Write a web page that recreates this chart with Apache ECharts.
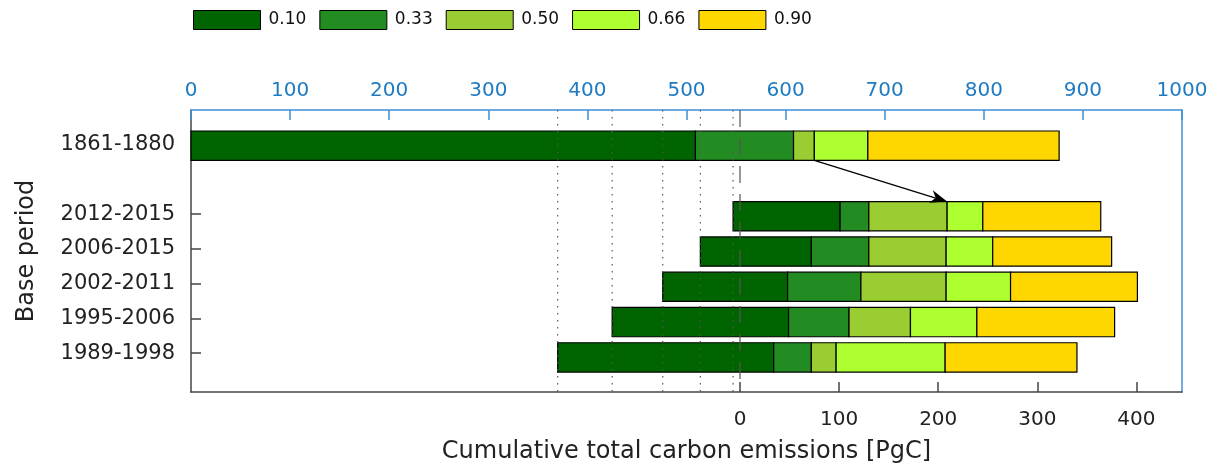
<!DOCTYPE html>
<html>
<head>
<meta charset="utf-8">
<script src="https://cdn.jsdelivr.net/npm/echarts@6/dist/echarts.min.js"></script>
<style>
  html, body { margin: 0; padding: 0; background: #fff; }
  #chart { width: 1220px; height: 463px; }
</style>
</head>
<body>
<div id="chart"></div>
<script>
// Base periods and their row positions on the vertical scale (row 5 is left empty)
const periods = ['1861-1880', '2012-2015', '2006-2015', '2002-2011', '1995-2006', '1989-1998'];
const rowPos = [6, 4, 3, 2, 1, 0];
// 0 = upper scale (emissions since 1861-1880), 1 = lower scale (emissions since the base period)
const rowAxis = [0, 1, 1, 1, 1, 1];

// Quantile levels and the cumulative emissions [PgC] reached at each one, per base period
const quantiles = ['0.10', '0.33', '0.50', '0.66', '0.90'];
const barStart = [0, -7, -40, -78, -129, -184];
const q10 = [509, 101, 72, 48, 49, 34];
const q33 = [608, 130, 130, 122, 110, 72];
const q50 = [629, 209, 208, 208, 172, 97];
const q66 = [683, 245, 255, 273, 239, 207];
const q90 = [876, 364, 375, 401, 378, 340];
const quantileEnds = [q10, q33, q50, q66, q90];

// Offset between the two scales: the lower scale's zero on the upper scale
const SHIFT = 554;
const bottomTicks = [0, 100, 200, 300, 400];

const colors = ['#006400', '#228B22', '#9ACD32', '#ADFF2F', '#FFD700'];
const BLUE_LINE = '#3f90d4';
const BLUE_TEXT = '#1f7bc1';
const DARK = '#444444';
const FONT = 'DejaVu Sans';
const BAR_H = 0.83;
// Row scale used by the bars (right axis) and by the period labels (left axis)
const BAR_MIN = -0.98, BAR_MAX = 7.01;
const LBL_MIN = -1.12, LBL_MAX = 7;

function renderSegment(params, api) {
  const y = api.value(2);
  const p0 = api.coord([api.value(0), y]);
  const p1 = api.coord([api.value(1), y]);
  const h = api.size([0, BAR_H])[1];
  return {
    type: 'rect',
    shape: { x: p0[0], y: p0[1] - h / 2, width: p1[0] - p0[0], height: h },
    style: { fill: api.visual('color'), stroke: '#000', lineWidth: 1.2 }
  };
}

const series = [];
[0, 1].forEach(function (axis) {
  quantiles.forEach(function (q, k) {
    const data = [];
    periods.forEach(function (p, i) {
      if (rowAxis[i] !== axis) return;
      const from = k === 0 ? barStart[i] : quantileEnds[k - 1][i];
      data.push([from, quantileEnds[k][i], rowPos[i]]);
    });
    series.push({
      type: 'custom',
      name: q,
      xAxisIndex: axis,
      yAxisIndex: 1,
      itemStyle: { color: colors[k] },
      encode: { x: [0, 1], y: 2 },
      renderItem: renderSegment,
      data: data,
      z: 2,
      silent: true
    });
  });
});

// Vertical reference lines at each base period's starting point, and at zero
const refLines = [];
periods.forEach(function (p, i) { if (rowAxis[i] === 1) refLines.push([barStart[i], 0]); });
refLines.push([0, 1]);
series.push({
  type: 'custom',
  xAxisIndex: 1,
  yAxisIndex: 1,
  encode: { x: 0 },
  data: refLines,
  z: 5,
  silent: true,
  renderItem: function (params, api) {
    const v = api.value(0);
    const top = api.coord([v, BAR_MAX]);
    const bot = api.coord([v, BAR_MIN]);
    const isZero = api.value(1) === 1;
    return {
      type: 'line',
      shape: { x1: top[0], y1: top[1], x2: bot[0], y2: bot[1] },
      style: isZero
        ? { stroke: '#555', lineWidth: 1.2, lineDash: [17, 11] }
        : { stroke: '#555', lineWidth: 1.2, lineDash: [1.5, 5.5] }
    };
  }
});

// Arrow from the 1861-1880 median to the 2012-2015 median
series.push({
  type: 'custom',
  xAxisIndex: 0,
  yAxisIndex: 1,
  encode: { x: [0, 2] },
  data: [[q50[0], rowPos[0], q50[1] + SHIFT, rowPos[1]]],
  z: 6,
  silent: true,
  renderItem: function (params, api) {
    const h = api.size([0, BAR_H])[1];
    const a = api.coord([api.value(0), api.value(1)]);
    const b = api.coord([api.value(2), api.value(3)]);
    a[1] += h / 2;
    b[1] -= h / 2;
    const ang = Math.atan2(b[1] - a[1], b[0] - a[0]);
    const L = 17, W = 6.5, N = 12;
    const cos = Math.cos(ang), sin = Math.sin(ang);
    const back = [b[0] - L * cos, b[1] - L * sin];
    const notch = [b[0] - N * cos, b[1] - N * sin];
    const left = [back[0] - W * sin, back[1] + W * cos];
    const right = [back[0] + W * sin, back[1] - W * cos];
    return {
      type: 'group',
      children: [
        { type: 'line', shape: { x1: a[0], y1: a[1], x2: notch[0], y2: notch[1] },
          style: { stroke: '#000', lineWidth: 1.3 } },
        { type: 'polygon', shape: { points: [b, left, notch, right] },
          style: { fill: '#000' } }
      ]
    };
  }
});

const labelByPos = {};
periods.forEach(function (p, i) { labelByPos[rowPos[i]] = p; });

const option = {
  animation: false,
  backgroundColor: '#fff',
  textStyle: { fontFamily: FONT },
  legend: {
    left: 193,
    top: 10,
    padding: 0,
    icon: 'rect',
    itemWidth: 67,
    itemHeight: 19,
    itemGap: 13,
    selectedMode: false,
    textStyle: { fontFamily: FONT, fontSize: 17, color: '#111', padding: [0, 0, 0, 3] },
    data: quantiles.map(function (q, k) {
      return { name: q, itemStyle: { color: colors[k], borderColor: '#000', borderWidth: 1 } };
    })
  },
  grid: { left: 191, right: 38, top: 110, bottom: 71, containLabel: false, outerBoundsMode: 'none' },
  xAxis: [
    {
      type: 'value',
      position: 'top',
      min: 0,
      max: 1000,
      interval: 100,
      axisLine: { show: true, onZero: false, lineStyle: { color: BLUE_LINE, width: 1.5 } },
      axisTick: { show: true, inside: true, length: 10, lineStyle: { color: BLUE_LINE, width: 1.5 } },
      axisLabel: {
        color: BLUE_TEXT, fontFamily: FONT, fontSize: 20, margin: 9,
        formatter: function (v) { return String(v); }
      },
      splitLine: { show: false }
    },
    {
      type: 'value',
      position: 'bottom',
      min: -SHIFT,
      max: 1000 - SHIFT,
      axisLine: { show: true, onZero: false, lineStyle: { color: DARK, width: 1.5 } },
      axisTick: { show: true, inside: true, length: 10, customValues: bottomTicks, lineStyle: { color: DARK, width: 1.5 } },
      axisLabel: { color: '#222', fontFamily: FONT, fontSize: 20, margin: 18, customValues: bottomTicks },
      splitLine: { show: false },
      name: 'Cumulative total carbon emissions [PgC]',
      nameLocation: 'middle',
      nameGap: 48,
      nameTextStyle: { color: '#222', fontFamily: FONT, fontSize: 24 }
    }
  ],
  yAxis: [
    {
      type: 'value',
      position: 'left',
      min: LBL_MIN,
      max: LBL_MAX,
      axisLine: { show: true, onZero: false, lineStyle: { color: DARK, width: 1.5 } },
      axisTick: { show: true, inside: true, length: 10, customValues: rowPos, lineStyle: { color: DARK, width: 1.5 } },
      axisLabel: {
        color: '#222', fontFamily: FONT, fontSize: 21, margin: 16,
        customValues: rowPos,
        formatter: function (v) { return labelByPos[v] || ''; }
      },
      splitLine: { show: false },
      name: 'Base period',
      nameLocation: 'middle',
      nameGap: 152,
      nameTextStyle: { color: '#222', fontFamily: FONT, fontSize: 24 }
    },
    {
      type: 'value',
      position: 'right',
      min: BAR_MIN,
      max: BAR_MAX,
      axisLine: { show: true, onZero: false, lineStyle: { color: BLUE_LINE, width: 1.5 } },
      axisTick: { show: false },
      axisLabel: { show: false },
      splitLine: { show: false }
    }
  ],
  series: series
};

const chart = echarts.init(document.getElementById('chart'), null, { renderer: 'canvas' });
chart.setOption(option);
</script>
</body>
</html>
